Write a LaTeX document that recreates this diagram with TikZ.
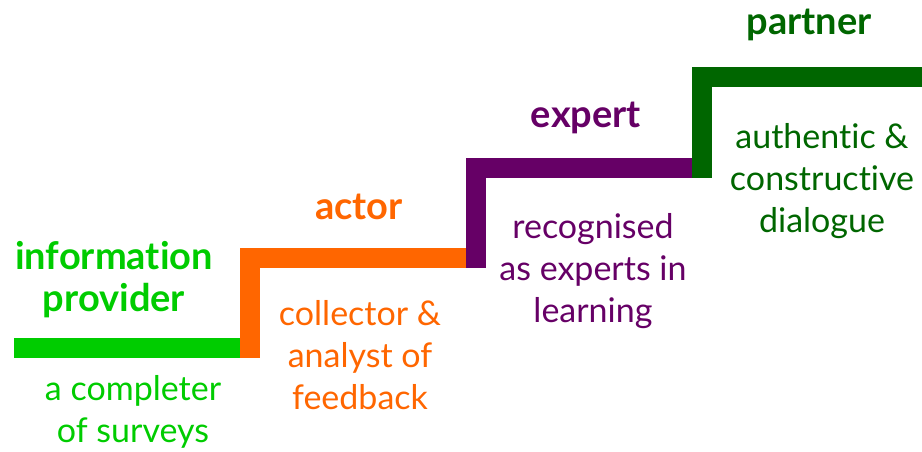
\documentclass[tikz,border=0pt]{standalone}
\usepackage{fontspec}
\setmainfont{Lato}[Ligatures=NoCommon, RawFeature={-liga;-clig;-dlig}]
\usetikzlibrary{positioning}

\definecolor{provgreen}{HTML}{00CC00}
\definecolor{actorange}{HTML}{FF6600}
\definecolor{exppurple}{HTML}{660066}
\definecolor{partgreen}{HTML}{006600}

\begin{document}
\begin{tikzpicture}[
    x=1pt, y=1pt,
    stair/.style={line width=20pt, line join=miter, line cap=butt},
    role/.style={font=\fontsize{38}{42}\selectfont\bfseries, align=center, anchor=base},
    desc/.style={font=\fontsize{34}{42}\selectfont, align=center, anchor=base}
  ]
    \useasboundingbox (0,0) rectangle (922,452);

    % corners of the stairs
    \coordinate (provL) at (14,104);
    \coordinate (provR) at (240,104);
    \coordinate (actB) at (250,94);
    \coordinate (actC) at (250,194);
    \coordinate (actR) at (466,194);
    \coordinate (expB) at (476,184);
    \coordinate (expC) at (476,284);
    \coordinate (expR) at (692,284);
    \coordinate (partB) at (702,274);
    \coordinate (partC) at (702,375);
    \coordinate (partR) at (922,375);

    \draw[stair, provgreen] (provL) -- (provR);
    \draw[stair, actorange] (actB) -- (actC) -- (actR);
    \draw[stair, exppurple] (expB) -- (expC) -- (expR);
    \draw[stair, partgreen] (partB) -- (partC) -- (partR);

    % roles above the steps (base = last line)
    \node[role, text=provgreen] (provider) at (114,140) {information\\provider};
    \node[role, text=actorange] (actor) at (359,232) {actor};
    \node[role, text=exppurple] (expert) at (586,324) {expert};
    \node[role, text=partgreen] (partner) at (809,417) {partner};

    % what each role does
    \node[desc, text=provgreen] (provDesc) at (133,9) {a completer\\of surveys};
    \node[desc, text=actorange] (actDesc) at (360,42) {collector \&\\analyst of\\feedback};
    \node[desc, text=exppurple] (expDesc) at (593,129) {recognised\\as experts in\\learning};
    \node[desc, text=partgreen] (partDesc) at (822,219) {authentic \&\\constructive\\dialogue};
\end{tikzpicture}
\end{document}
